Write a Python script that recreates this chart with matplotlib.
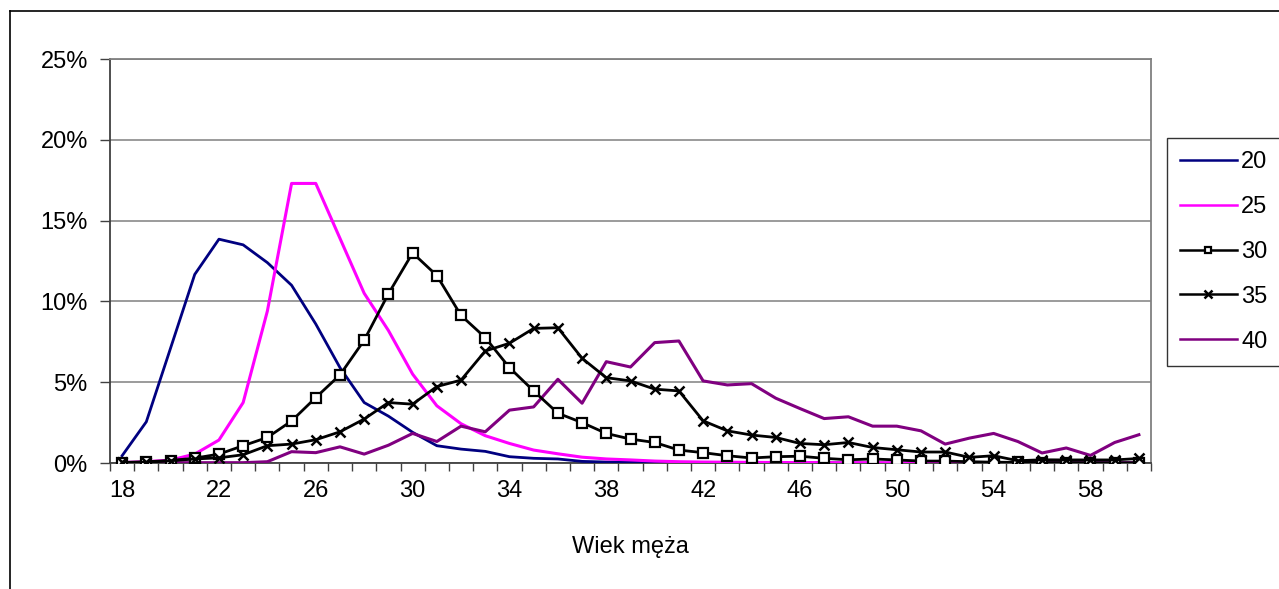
import matplotlib
matplotlib.use("Agg")
import matplotlib.pyplot as plt
from matplotlib.lines import Line2D
from matplotlib.ticker import FixedLocator, FuncFormatter

plt.rcParams['font.family'] = ['Liberation Sans', 'DejaVu Sans']

# wiek męża 18..60
ages = list(range(18, 61))
tick_ages = list(range(18, 61, 4))

s20 = [0.45, 2.55, 7.1, 11.67, 13.85, 13.5, 12.4, 11.0, 8.6, 5.9,
       3.74, 2.9, 1.9, 1.07, 0.86, 0.72, 0.39, 0.29, 0.25, 0.1,
       0.06, 0.04, 0.03, 0.02, 0.02, 0.01, 0.01, 0.01, 0.01, 0.01,
       0.0, 0.0, 0.0, 0.0, 0.0, 0.0, 0.0, 0.0, 0.0, 0.0,
       0.0, 0.0, 0.0]
s25 = [0.03, 0.08, 0.18, 0.55, 1.42, 3.74, 9.4, 17.3, 17.3, 13.9,
       10.5, 8.2, 5.5, 3.54, 2.43, 1.69, 1.21, 0.8, 0.57, 0.36,
       0.25, 0.19, 0.12, 0.08, 0.06, 0.05, 0.04, 0.03, 0.03, 0.02,
       0.02, 0.02, 0.01, 0.01, 0.01, 0.01, 0.01, 0.01, 0.01, 0.01,
       0.01, 0.01, 0.01]
s30 = [0.03, 0.08, 0.15, 0.3, 0.55, 1.07, 1.58, 2.6, 4.05, 5.45,
       7.6, 10.47, 13.0, 11.6, 9.13, 7.76, 5.9, 4.46, 3.08, 2.5,
       1.83, 1.48, 1.27, 0.8, 0.64, 0.45, 0.31, 0.39, 0.42, 0.29,
       0.2, 0.25, 0.19, 0.12, 0.12, 0.08, 0.05, 0.04, 0.03, 0.03,
       0.02, 0.02, 0.02]
s35 = [0.04, 0.04, 0.14, 0.25, 0.32, 0.51, 1.07, 1.17, 1.44, 1.93,
       2.72, 3.74, 3.64, 4.73, 5.13, 6.93, 7.41, 8.33, 8.37, 6.48,
       5.28, 5.08, 4.57, 4.46, 2.61, 1.99, 1.73, 1.58, 1.21, 1.13,
       1.27, 0.96, 0.82, 0.68, 0.68, 0.35, 0.45, 0.14, 0.2, 0.19,
       0.19, 0.19, 0.28]
s40 = [0.02, 0.02, 0.02, 0.02, 0.02, 0.02, 0.08, 0.7, 0.64, 1.0,
       0.55, 1.1, 1.83, 1.33, 2.28, 1.93, 3.27, 3.47, 5.18, 3.7,
       6.27, 5.94, 7.45, 7.55, 5.08, 4.83, 4.91, 4.01, 3.37, 2.75,
       2.86, 2.28, 2.28, 1.99, 1.17, 1.54, 1.83, 1.33, 0.62, 0.93,
       0.47, 1.27, 1.75]

W, H = 1279, 589
fig = plt.figure(figsize=(W / 100, H / 100), dpi=100)
ax = fig.add_axes([110 / W, (H - 463) / H, 1041 / W, 404 / H])

x = list(range(len(ages)))
ax.plot(x, [v / 100 for v in s20], color="#000080", lw=2.0, zorder=3, label="20")
ax.plot(x, [v / 100 for v in s25], color="#FF00FF", lw=2.2, zorder=3, label="25")
ax.plot(x, [v / 100 for v in s30], color="black", lw=2.0, marker="s", ms=7,
        mfc="white", mec="black", mew=1.6, zorder=4, label="30")
ax.plot(x, [v / 100 for v in s35], color="black", lw=2.0, marker="x", ms=7.5,
        mec="black", mew=1.8, zorder=4, label="35")
ax.plot(x, [v / 100 for v in s40], color="#800080", lw=2.2, zorder=3, label="40")

ax.set_xlim(-0.5, len(ages) - 0.5)
ax.set_ylim(0, 0.25)
ax.set_yticks([0, 0.05, 0.10, 0.15, 0.20, 0.25])
ax.yaxis.set_major_formatter(FuncFormatter(lambda v, p: f"{v * 100:.0f}%"))
ax.grid(axis="y", color="#808080", lw=1.1)
ax.set_axisbelow(True)

ax.set_xticks([ages.index(a) for a in tick_ages])
ax.set_xticklabels([str(a) for a in tick_ages])
ax.xaxis.set_minor_locator(FixedLocator([i - 0.5 for i in range(len(ages) + 1)]))
ax.tick_params(axis="x", which="major", length=0, pad=12, labelsize=17)
ax.tick_params(axis="x", which="minor", length=6, width=1, color="#404040")
ax.tick_params(axis="y", length=7, width=1, color="#404040", pad=9, labelsize=17)

for side in ["left", "bottom"]:
    ax.spines[side].set_color("#404040")
    ax.spines[side].set_linewidth(1.3)
for side in ["top", "right"]:
    ax.spines[side].set_color("#808080")
    ax.spines[side].set_linewidth(1.3)

ax.set_xlabel("Wiek męża", fontsize=17, labelpad=25)

# ramka wykresu
fig.add_artist(Line2D([10 / W, 1], [1 - 11 / H, 1 - 11 / H], color="black", lw=1.2))
fig.add_artist(Line2D([10 / W, 10 / W], [0, 1 - 11 / H], color="black", lw=1.2))

leg = fig.legend(loc="upper left", bbox_to_anchor=(1167 / W, 1 - 138 / H),
                 fontsize=17, handlelength=2.4, handletextpad=0.2,
                 labelspacing=0.97, borderpad=0.55, markerscale=0.7,
                 frameon=True, fancybox=False, borderaxespad=0)
leg.get_frame().set_edgecolor("black")
leg.get_frame().set_linewidth(1.0)
for h in leg.get_lines():
    h.set_linewidth(1.8)

fig.savefig("out.png", dpi=100)
